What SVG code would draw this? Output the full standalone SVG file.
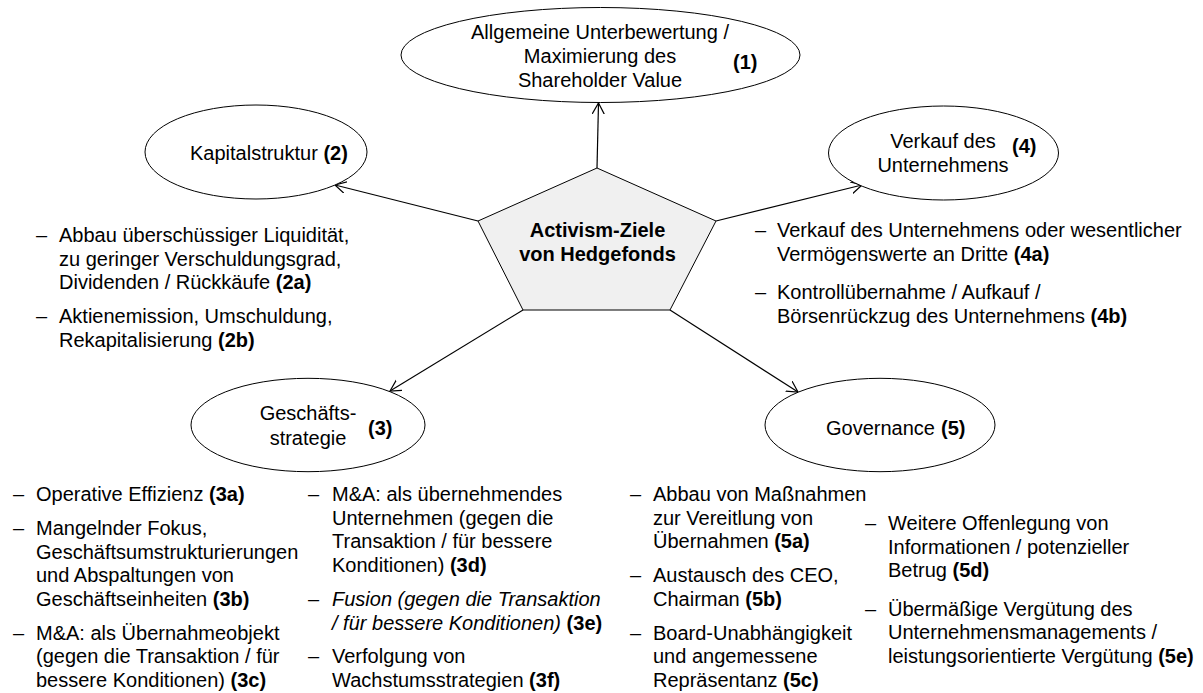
<svg xmlns="http://www.w3.org/2000/svg" width="1203" height="693" viewBox="0 0 1203 693">
<defs>
<style>
text{font-family:"Liberation Sans",Arial,sans-serif;font-size:20px;fill:#000}
.b{font-weight:bold}
.i{font-style:italic}
.m{text-anchor:middle}
.node{fill:#fff;stroke:#000;stroke-width:1}
.edge{fill:none;stroke:#000;stroke-width:1.2;marker-end:url(#arr)}
</style>
<marker id="arr" markerUnits="userSpaceOnUse" markerWidth="14" markerHeight="14" refX="11" refY="6" orient="auto">
<path d="M0,0 L11,6 L0,12" fill="none" stroke="#000" stroke-width="1.2"/>
</marker>
</defs>
<rect width="1203" height="693" fill="#fff"/>

<g id="connectors">
<line class="edge" x1="597" y1="168" x2="598.5" y2="103"/>
<line class="edge" x1="478" y1="221" x2="335" y2="185"/>
<line class="edge" x1="716" y1="221" x2="862" y2="185"/>
<line class="edge" x1="523" y1="310" x2="390" y2="391"/>
<line class="edge" x1="670" y1="310" x2="798" y2="392"/>
</g>

<g id="center">
<polygon points="597,168 716,221 670,310 523,310 478,221" fill="#f0f0f0" stroke="#000" stroke-width="1"/>
<text class="b m" x="597.5" y="237">Activism-Ziele</text>
<text class="b m" x="597.5" y="261">von Hedgefonds</text>
</g>

<g id="node1">
<ellipse class="node" cx="600.5" cy="55" rx="199.5" ry="47.5"/>
<text class="m" x="600" y="39">Allgemeine Unterbewertung /</text>
<text class="m" x="600" y="63">Maximierung des</text>
<text class="m" x="600" y="87">Shareholder Value</text>
<text class="b" x="733" y="69">(1)</text>
</g>

<g id="node2">
<ellipse class="node" cx="256" cy="152" rx="111" ry="47"/>
<text x="190" y="160">Kapitalstruktur <tspan class="b">(2)</tspan></text>
</g>

<g id="node4">
<ellipse class="node" cx="943.5" cy="153" rx="115" ry="47"/>
<text class="m" x="943" y="148">Verkauf des</text>
<text class="m" x="943" y="172">Unternehmens</text>
<text class="b" x="1012" y="153">(4)</text>
</g>

<g id="node3">
<ellipse class="node" cx="308" cy="425" rx="117" ry="46.7"/>
<text class="m" x="308" y="420">Geschäfts-</text>
<text class="m" x="308" y="445">strategie</text>
<text class="b" x="368" y="435">(3)</text>
</g>

<g id="node5">
<ellipse class="node" cx="880" cy="425" rx="115" ry="46.7"/>
<text x="826" y="435">Governance</text>
<text class="b" x="941" y="435">(5)</text>
</g>

<g id="list2">
<text x="36" y="242">–</text>
<text x="59" y="242">Abbau überschüssiger Liquidität,</text>
<text x="59" y="265.7">zu geringer Verschuldungsgrad,</text>
<text x="59" y="289.4">Dividenden / Rückkäufe <tspan class="b">(2a)</tspan></text>
<text x="36" y="323.2">–</text>
<text x="59" y="323.2">Aktienemission, Umschuldung,</text>
<text x="59" y="346.9">Rekapitalisierung <tspan class="b">(2b)</tspan></text>
</g>

<g id="list4">
<text x="755" y="237">–</text>
<text x="777" y="237">Verkauf des Unternehmens oder wesentlicher</text>
<text x="777" y="260.7">Vermögenswerte an Dritte <tspan class="b">(4a)</tspan></text>
<text x="755" y="299">–</text>
<text x="777" y="299">Kontrollübernahme / Aufkauf /</text>
<text x="777" y="322.7">Börsenrückzug des Unternehmens <tspan class="b">(4b)</tspan></text>
</g>

<g id="list3left">
<text x="13" y="501">–</text>
<text x="36" y="501">Operative Effizienz <tspan class="b">(3a)</tspan></text>
<text x="13" y="534.8">–</text>
<text x="36" y="534.8">Mangelnder Fokus,</text>
<text x="36" y="558.5">Geschäftsumstrukturierungen</text>
<text x="36" y="582.2">und Abspaltungen von</text>
<text x="36" y="605.9">Geschäftseinheiten <tspan class="b">(3b)</tspan></text>
<text x="13" y="639.7">–</text>
<text x="36" y="639.7">M&amp;A: als Übernahmeobjekt</text>
<text x="36" y="663.4">(gegen die Transaktion / für</text>
<text x="36" y="687.1">bessere Konditionen) <tspan class="b">(3c)</tspan></text>
</g>

<g id="list3right">
<text x="308" y="501">–</text>
<text x="332" y="501">M&amp;A: als übernehmendes</text>
<text x="332" y="524.7">Unternehmen (gegen die</text>
<text x="332" y="548.4">Transaktion / für bessere</text>
<text x="332" y="572.1">Konditionen) <tspan class="b">(3d)</tspan></text>
<text x="308" y="605.9">–</text>
<text class="i" x="332" y="605.9">Fusion (gegen die Transaktion</text>
<text x="332" y="629.6"><tspan class="i">/ für bessere Konditionen)</tspan> <tspan class="b">(3e)</tspan></text>
<text x="308" y="663.4">–</text>
<text x="332" y="663.4">Verfolgung von</text>
<text x="332" y="687.1">Wachstumsstrategien <tspan class="b">(3f)</tspan></text>
</g>

<g id="list5left">
<text x="630" y="501">–</text>
<text x="653" y="501">Abbau von Maßnahmen</text>
<text x="653" y="524.7">zur Vereitlung von</text>
<text x="653" y="548.4">Übernahmen <tspan class="b">(5a)</tspan></text>
<text x="630" y="582.2">–</text>
<text x="653" y="582.2">Austausch des CEO,</text>
<text x="653" y="605.9">Chairman <tspan class="b">(5b)</tspan></text>
<text x="630" y="639.7">–</text>
<text x="653" y="639.7">Board-Unabhängigkeit</text>
<text x="653" y="663.4">und angemessene</text>
<text x="653" y="687.1">Repräsentanz <tspan class="b">(5c)</tspan></text>
</g>

<g id="list5right">
<text x="865" y="530">–</text>
<text x="888" y="530">Weitere Offenlegung von</text>
<text x="888" y="553.7">Informationen / potenzieller</text>
<text x="888" y="577.4">Betrug <tspan class="b">(5d)</tspan></text>
<text x="865" y="615.5">–</text>
<text x="888" y="615.5">Übermäßige Vergütung des</text>
<text x="888" y="639.2">Unternehmensmanagements /</text>
<text x="888" y="662.9">leistungsorientierte Vergütung <tspan class="b">(5e)</tspan></text>
</g>
</svg>
